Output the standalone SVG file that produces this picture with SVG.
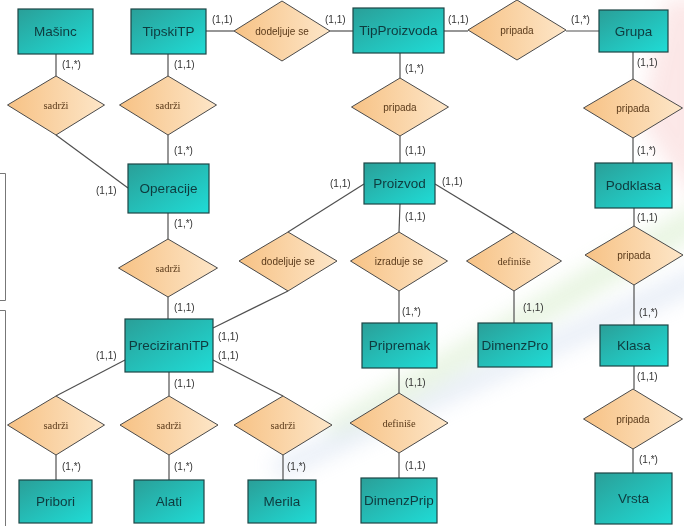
<svg xmlns="http://www.w3.org/2000/svg" width="684" height="526" viewBox="0 0 684 526">
<defs>
<linearGradient id="ent" x1="0" y1="0" x2="1" y2="1">
<stop offset="0" stop-color="#2a9f98"/>
<stop offset="1" stop-color="#1fdcd6"/>
</linearGradient>
<linearGradient id="rel" x1="0" y1="0" x2="1" y2="0">
<stop offset="0" stop-color="#f7c285"/>
<stop offset="1" stop-color="#fde6c8"/>
</linearGradient>
<filter id="blur" x="-30%" y="-30%" width="160%" height="160%"><feGaussianBlur stdDeviation="10"/></filter>
<style>
.e rect{fill:url(#ent);stroke:#1d4545;stroke-width:1.2}
.e text{font-family:"Liberation Sans",Arial,sans-serif;font-size:13.5px;fill:#0e3b3e;text-anchor:middle;dominant-baseline:central}
.r polygon{fill:url(#rel);stroke:#4a4a4a;stroke-width:1}
.r text{font-family:"Liberation Sans",Arial,sans-serif;font-size:10px;fill:#5a3a1a;text-anchor:middle;dominant-baseline:central}
.r text.s{font-family:"Liberation Serif","Times New Roman",serif;font-size:10.5px}
#connectors line{stroke:#505050;stroke-width:1.2}
.c{font-family:"Liberation Sans",Arial,sans-serif;font-size:10px;fill:#333}
</style>
</defs>
<rect width="684" height="526" fill="#ffffff"/>
<g id="background" filter="url(#blur)" opacity="0.35">
<path d="M700,0 L665,0 L640,120 L700,210 Z" fill="#f09090" opacity="0.6"/>
<path d="M700,200 L700,235 L340,440 L320,425 Z" fill="#b0dc98" opacity="0.8"/>
<path d="M700,265 L700,290 L280,480 L270,462 Z" fill="#b0c4e4" opacity="0.8"/>
<path d="M560,300 L520,330 L380,430 L360,425 Z" fill="#d0e8c0" opacity="0.5"/>
</g>
<g id="frame" fill="none" stroke="#777" stroke-width="1">
<path d="M0,173.5 H5.5 V300.5 H0"/>
<path d="M0,310.5 H5.5 V526"/>
</g>
<g id="connectors">
<line x1="56" y1="54" x2="56" y2="76"/>
<line x1="56" y1="135" x2="128" y2="188"/>
<line x1="168" y1="54" x2="168" y2="76"/>
<line x1="168" y1="135" x2="168" y2="164"/>
<line x1="206" y1="31" x2="234" y2="31"/>
<line x1="330" y1="31" x2="353" y2="31"/>
<line x1="444" y1="31" x2="468" y2="31"/>
<line x1="566" y1="31" x2="599" y2="31"/>
<line x1="400" y1="53" x2="400" y2="78"/>
<line x1="400" y1="136" x2="400" y2="163"/>
<line x1="633" y1="52" x2="633" y2="79"/>
<line x1="633" y1="138" x2="633" y2="163"/>
<line x1="634" y1="208" x2="634" y2="226"/>
<line x1="634" y1="285" x2="634" y2="325"/>
<line x1="634" y1="366" x2="634" y2="389"/>
<line x1="633" y1="449" x2="633" y2="473"/>
<line x1="168" y1="213" x2="168" y2="239"/>
<line x1="168" y1="297" x2="168" y2="319"/>
<line x1="364" y1="184" x2="288" y2="232"/>
<line x1="288" y1="291" x2="213" y2="328"/>
<line x1="400" y1="204" x2="399" y2="232"/>
<line x1="399" y1="291" x2="399" y2="323"/>
<line x1="435" y1="184" x2="514" y2="232"/>
<line x1="514" y1="291" x2="514" y2="323"/>
<line x1="399" y1="368" x2="399" y2="393"/>
<line x1="399" y1="453" x2="399" y2="478"/>
<line x1="125" y1="360" x2="56" y2="396"/>
<line x1="169" y1="372" x2="169" y2="396"/>
<line x1="213" y1="360" x2="283" y2="396"/>
<line x1="56" y1="455" x2="56" y2="480"/>
<line x1="169" y1="455" x2="169" y2="480"/>
<line x1="283" y1="455" x2="283" y2="480"/>
</g>
<g id="cardinalities" class="c">
<text x="62" y="68">(1,*)</text>
<text x="96" y="194">(1,1)</text>
<text x="174" y="68">(1,1)</text>
<text x="174" y="154">(1,*)</text>
<text x="212" y="23">(1,1)</text>
<text x="325" y="23">(1,1)</text>
<text x="448" y="23">(1,1)</text>
<text x="571" y="23">(1,*)</text>
<text x="405" y="72">(1,*)</text>
<text x="405" y="154">(1,1)</text>
<text x="637" y="66">(1,1)</text>
<text x="637" y="154">(1,*)</text>
<text x="637" y="221">(1,1)</text>
<text x="639" y="316">(1,*)</text>
<text x="637" y="380">(1,1)</text>
<text x="639" y="463">(1,*)</text>
<text x="174" y="227">(1,*)</text>
<text x="174" y="311">(1,1)</text>
<text x="330" y="187">(1,1)</text>
<text x="442" y="185">(1,1)</text>
<text x="405" y="220">(1,1)</text>
<text x="402" y="315">(1,*)</text>
<text x="523" y="311">(1,1)</text>
<text x="218" y="340">(1,1)</text>
<text x="218" y="359">(1,1)</text>
<text x="96" y="359">(1,1)</text>
<text x="174" y="387">(1,1)</text>
<text x="405" y="386">(1,1)</text>
<text x="405" y="469">(1,1)</text>
<text x="62" y="470">(1,*)</text>
<text x="174" y="470">(1,*)</text>
<text x="287" y="470">(1,*)</text>
</g>
<g id="Masinc" class="e"><rect x="18" y="9" width="75" height="45"/><text x="55.5" y="31.5">Mašinc</text></g>
<g id="TipskiTP" class="e"><rect x="131" y="9" width="75" height="45"/><text x="168.5" y="31.5">TipskiTP</text></g>
<g id="TipProizvoda" class="e"><rect x="353" y="8" width="91" height="45"/><text x="398.5" y="30.5">TipProizvoda</text></g>
<g id="Grupa" class="e"><rect x="599" y="10" width="69" height="42"/><text x="633.5" y="31">Grupa</text></g>
<g id="Operacije" class="e"><rect x="128" y="164" width="81" height="49"/><text x="168.5" y="188.5">Operacije</text></g>
<g id="Proizvod" class="e"><rect x="364" y="163" width="71" height="41"/><text x="399.5" y="183.5">Proizvod</text></g>
<g id="Podklasa" class="e"><rect x="595" y="163" width="77" height="45"/><text x="633.5" y="185.5">Podklasa</text></g>
<g id="PreciziraniTP" class="e"><rect x="125" y="319" width="88" height="53"/><text x="169" y="345.5">PreciziraniTP</text></g>
<g id="Pripremak" class="e"><rect x="362" y="323" width="75" height="45"/><text x="399.5" y="345.5">Pripremak</text></g>
<g id="DimenzPro" class="e"><rect x="478" y="323" width="74" height="44"/><text x="515" y="345">DimenzPro</text></g>
<g id="Klasa" class="e"><rect x="600" y="325" width="68" height="41"/><text x="634" y="345.5">Klasa</text></g>
<g id="Pribori" class="e"><rect x="19" y="480" width="73" height="43"/><text x="55.5" y="501.5">Pribori</text></g>
<g id="Alati" class="e"><rect x="134" y="480" width="70" height="43"/><text x="169" y="501.5">Alati</text></g>
<g id="Merila" class="e"><rect x="248" y="480" width="68" height="43"/><text x="282" y="501.5">Merila</text></g>
<g id="DimenzPrip" class="e"><rect x="361" y="478" width="76" height="45"/><text x="399" y="500.5">DimenzPrip</text></g>
<g id="Vrsta" class="e"><rect x="595" y="473" width="77" height="51"/><text x="633.5" y="498.5">Vrsta</text></g>
<g id="r_sadrzi1" class="r"><polygon points="56,76 104.5,105 56,135 7.5,105"/><text class="s" x="56" y="105">sadrži</text></g>
<g id="r_sadrzi2" class="r"><polygon points="168,76 216.5,105 168,135 119.5,105"/><text class="s" x="168" y="105">sadrži</text></g>
<g id="r_dodeljuje1" class="r"><polygon points="282,1 330,31 282,61 234,31"/><text x="282" y="31">dodeljuje se</text></g>
<g id="r_pripada1" class="r"><polygon points="517,0 566,30 517,60 468,30"/><text x="517" y="30">pripada</text></g>
<g id="r_pripada2" class="r"><polygon points="400,78 448.5,107 400,136 351.5,107"/><text x="400" y="107">pripada</text></g>
<g id="r_pripada3" class="r"><polygon points="633,79 682.5,108 633,138 583.5,108"/><text x="633" y="108">pripada</text></g>
<g id="r_sadrzi3" class="r"><polygon points="168,239 217.5,268 168,297 118.5,268"/><text class="s" x="168" y="268">sadrži</text></g>
<g id="r_dodeljuje2" class="r"><polygon points="288,232 337,261 288,291 239,261"/><text x="288" y="261">dodeljuje se</text></g>
<g id="r_izraduje" class="r"><polygon points="399,232 447.5,261 399,291 350.5,261"/><text x="399" y="261">izraduje se</text></g>
<g id="r_definise1" class="r"><polygon points="514,232 561.5,261 514,291 466.5,261"/><text class="s" x="514" y="261">definiše</text></g>
<g id="r_pripada4" class="r"><polygon points="634,226 683,255 634,285 585,255"/><text x="634" y="255">pripada</text></g>
<g id="r_sadrzi4" class="r"><polygon points="56,396 104.5,425 56,455 7.5,425"/><text class="s" x="56" y="425">sadrži</text></g>
<g id="r_sadrzi5" class="r"><polygon points="169,396 218,425 169,455 120,425"/><text class="s" x="169" y="425">sadrži</text></g>
<g id="r_sadrzi6" class="r"><polygon points="283,396 332,425 283,455 234,425"/><text class="s" x="283" y="425">sadrži</text></g>
<g id="r_definise2" class="r"><polygon points="399,393 448,423 399,453 350,423"/><text class="s" x="399" y="423">definiše</text></g>
<g id="r_pripada5" class="r"><polygon points="633,389 682.5,419 633,449 583.5,419"/><text x="633" y="419">pripada</text></g>
</svg>
